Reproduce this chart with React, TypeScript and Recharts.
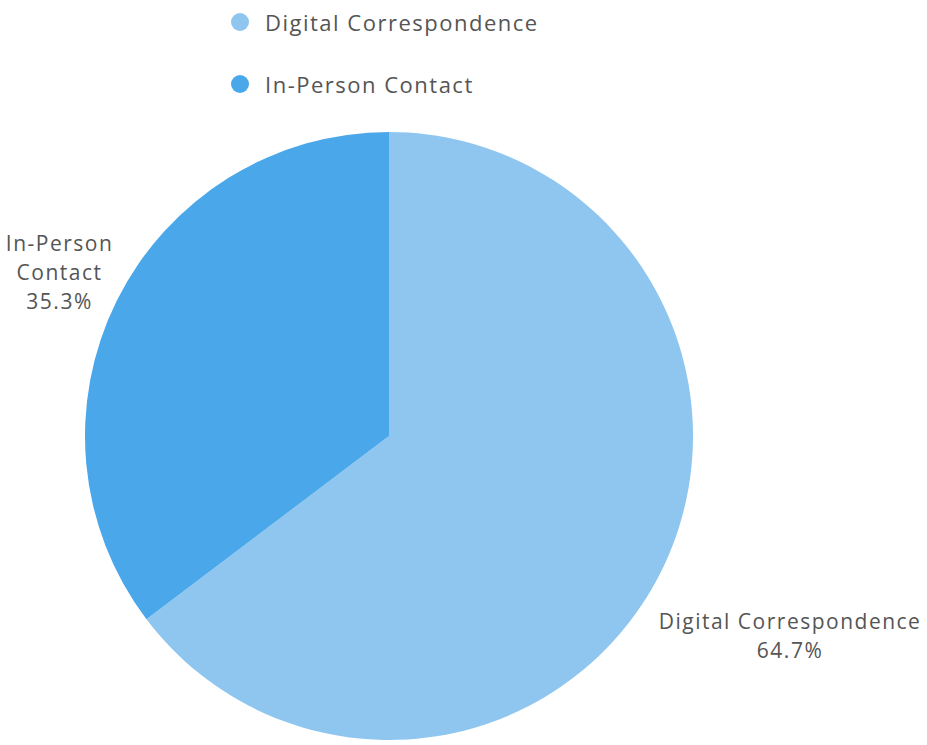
import { PieChart, Pie, Cell, Legend } from 'recharts';

const channels = ['Digital Correspondence', 'In-Person Contact'];
const shares = [64.7, 35.3];
const sliceColors = ['#8fc6ef', '#4aa8ea'];

const data = channels.map((name, i) => ({ name, value: shares[i] }));

const RAD = Math.PI / 180;
const FONT = '"Open Sans", "Noto Sans", sans-serif';

const renderLabel = (props: any) => {
  const { cx, cy, midAngle, outerRadius, index, name, value } = props;
  const r = outerRadius + (index === 0 ? 144 : 64);
  const x = cx + r * Math.cos(-midAngle * RAD);
  const y = cy + r * Math.sin(-midAngle * RAD);
  const lines = index === 1 ? ['In-Person', 'Contact', `${value}%`] : [name, `${value}%`];
  const lh = 29;
  const top = y - ((lines.length - 1) * lh) / 2;
  return (
    <text x={x} y={top} textAnchor="middle" fill="#555" fontSize={21} letterSpacing={1.5} fontFamily={FONT} dominantBaseline="central">
      {lines.map((l, i) => (
        <tspan key={i} x={x} y={top + i * lh}>{l}</tspan>
      ))}
    </text>
  );
};

const renderLegend = (props: any) => {
  const { payload } = props;
  return (
    <div style={{ fontFamily: FONT }}>
      {payload.map((p: any, i: number) => (
        <div key={i} style={{ display: 'flex', alignItems: 'center', height: 62 }}>
          <span style={{ width: 18, height: 18, borderRadius: '50%', background: p.color, display: 'inline-block', marginRight: 16 }} />
          <span style={{ fontSize: 22, letterSpacing: 1.5, color: '#555' }}>{p.value}</span>
        </div>
      ))}
    </div>
  );
};

export default function App() {
  return (
    <div style={{ position: 'absolute', left: 0, top: 0, background: '#fff' }}>
      <PieChart width={927} height={745} margin={{ top: 0, right: 0, bottom: 0, left: 0 }}>
        <Legend
          content={renderLegend}
          layout="vertical"
          verticalAlign="middle"
          align="center"
          wrapperStyle={{ position: 'absolute', left: 231, top: -9, width: 'auto' }}
        />
        <Pie
          data={data}
          dataKey="value"
          nameKey="name"
          cx={389}
          cy={436}
          outerRadius={304}
          startAngle={90}
          endAngle={-270}
          stroke="none"
          label={renderLabel}
          labelLine={false}
          isAnimationActive={false}
        >
          {data.map((d, i) => (
            <Cell key={d.name} fill={sliceColors[i]} />
          ))}
        </Pie>
      </PieChart>
    </div>
  );
}
